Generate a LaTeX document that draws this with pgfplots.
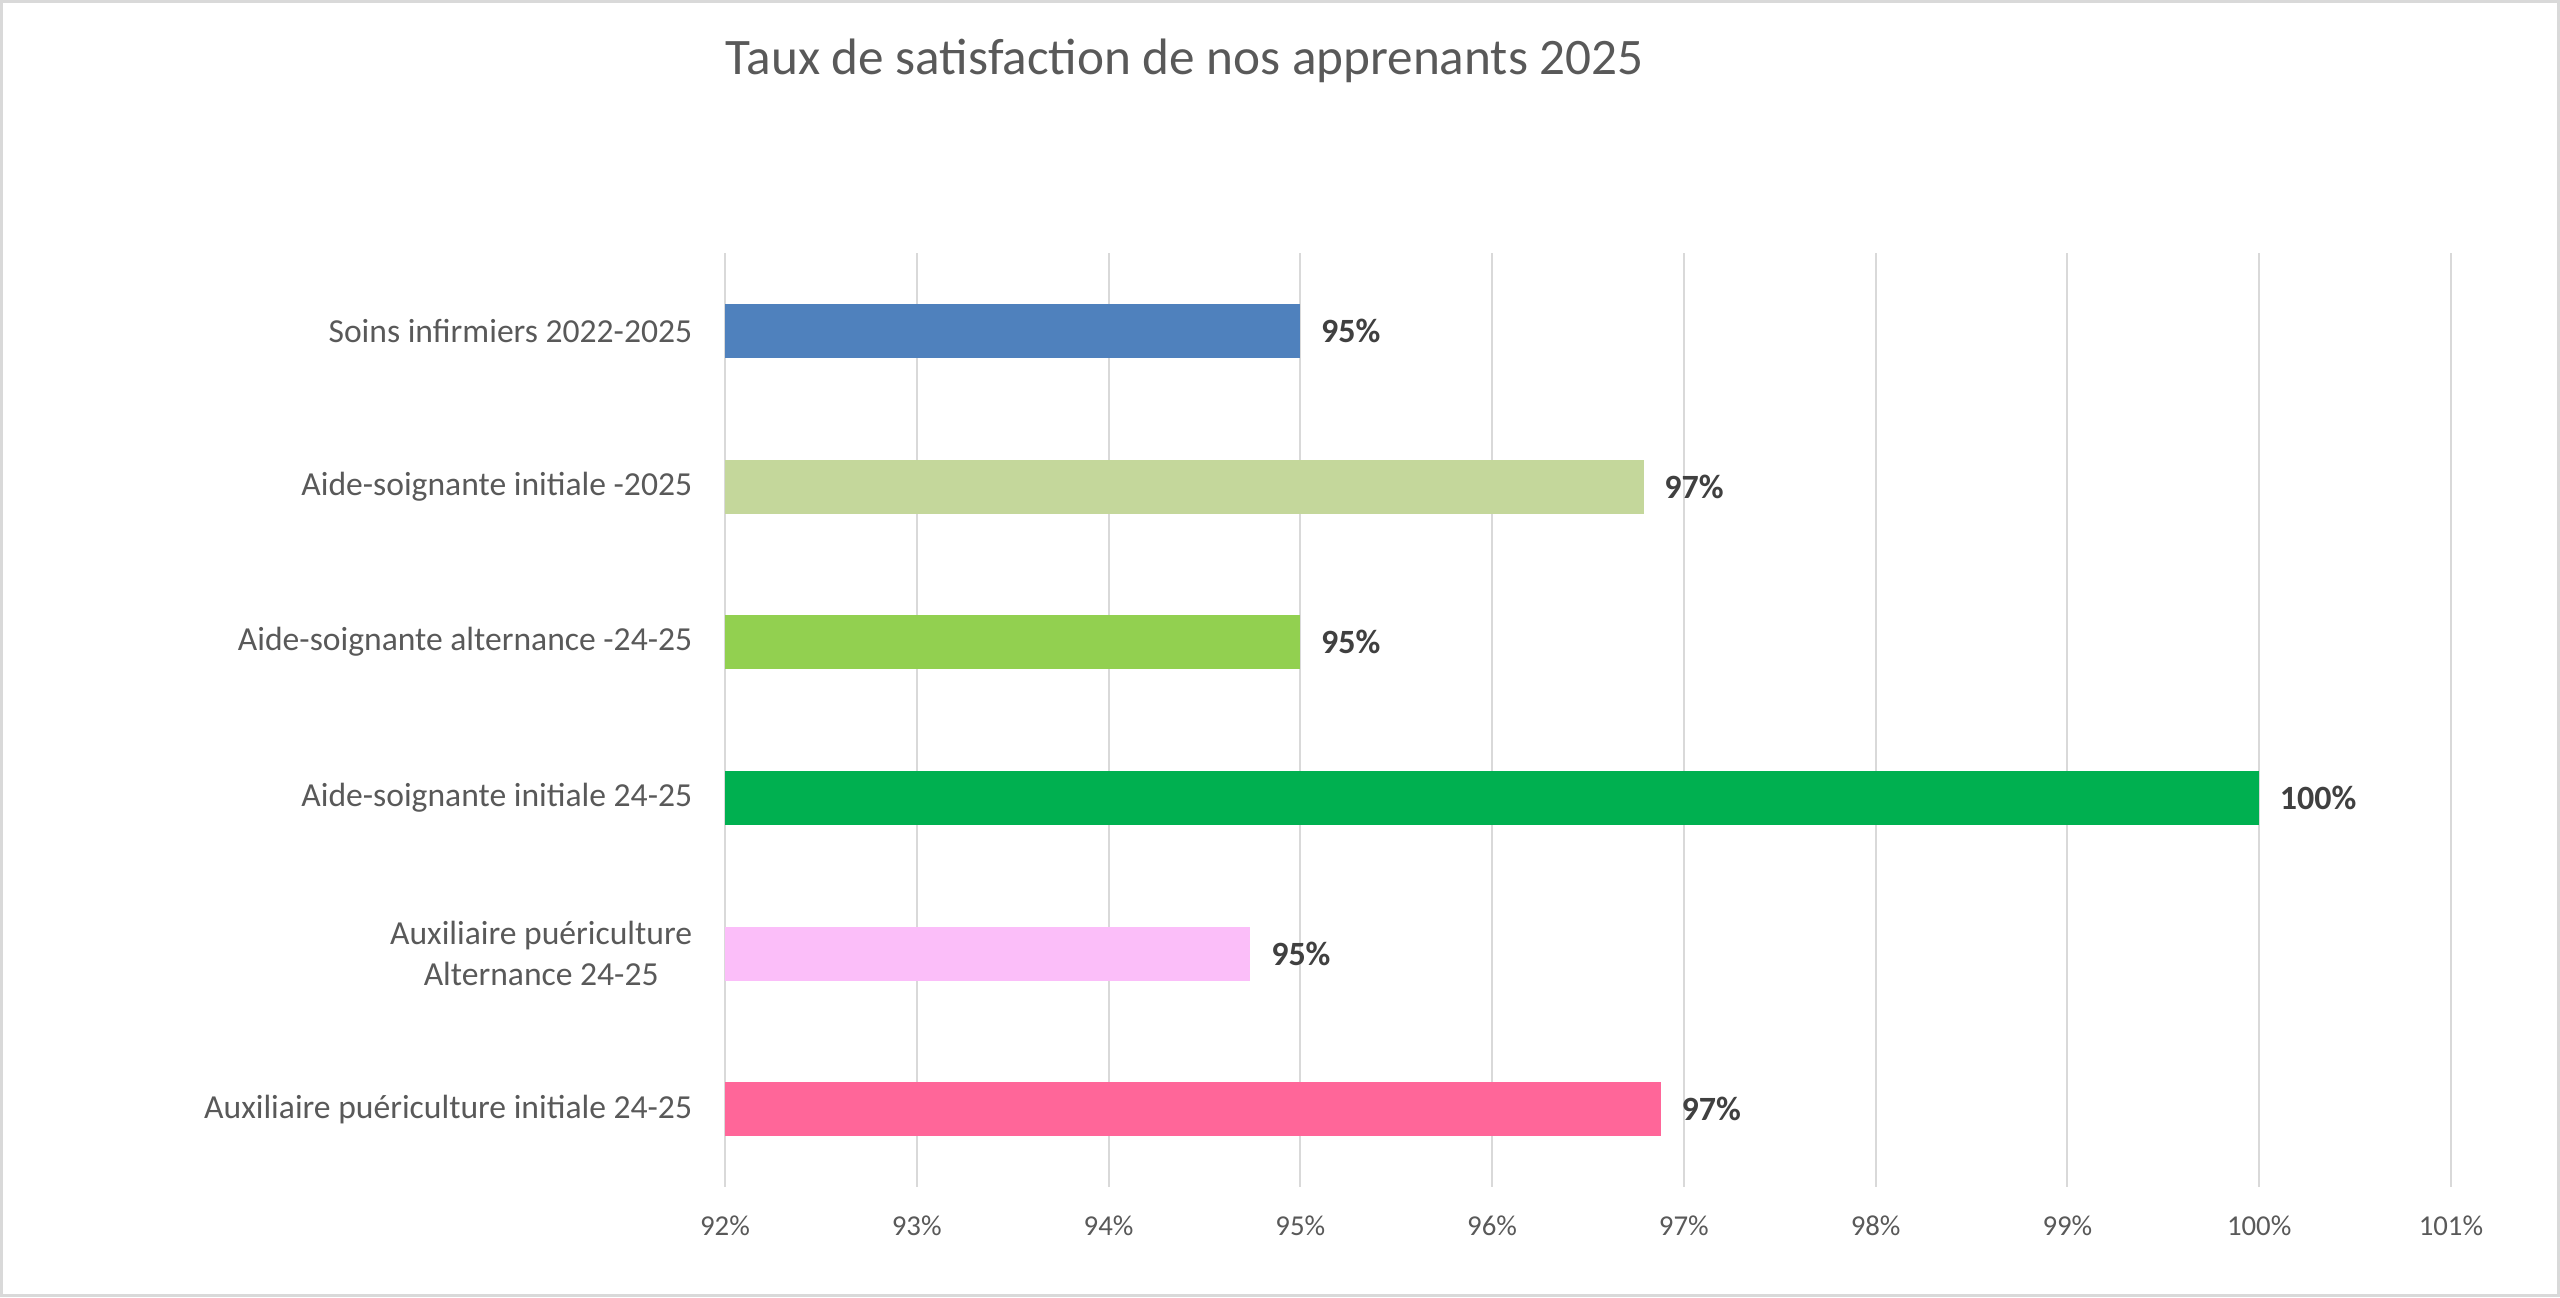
\documentclass[border=0pt]{standalone}
\usepackage{fontspec}
\setmainfont{Carlito}
\usepackage{pgfplots}
\pgfplotsset{compat=1.18}
\definecolor{txt}{HTML}{595959}
\definecolor{val}{HTML}{404040}
\definecolor{gridc}{HTML}{D9D9D9}
\definecolor{cA}{HTML}{4F81BD}
\definecolor{cB}{HTML}{C4D79B}
\definecolor{cC}{HTML}{92D050}
\definecolor{cD}{HTML}{00B050}
\definecolor{cE}{HTML}{FBBEF9}
\definecolor{cF}{HTML}{FF6699}
\begin{document}
\begin{tikzpicture}
\path[use as bounding box] (0,0) rectangle (640pt,324.25pt);
\draw[draw=gridc, line width=0.8pt] (0.4pt,0.4pt) rectangle (639.6pt,323.85pt);
\node[anchor=base west, inner sep=0pt, text=txt, font=\fontsize{12.8}{15}\selectfont]
  at (181.25pt,305.7pt) {Taux de satisfaction de nos apprenants 2025};
\begin{axis}[
  at={(181.25pt,27.5pt)}, anchor=south west,
  scale only axis, width=431.5pt, height=233.5pt,
  xbar, bar shift=0pt, bar width=13.5pt,
  xmin=92, xmax=101, ymin=-0.5, ymax=5.5, y dir=reverse,
  xtick={92,...,101}, ytick={0,...,5},
  xticklabel={\pgfmathprintnumber{\tick}\%},
  yticklabels={Soins infirmiers 2022-2025, Aide-soignante initiale -2025,
    Aide-soignante alternance -24-25, Aide-soignante initiale 24-25,
    {Auxiliaire puériculture\\Alternance 24-25}, Auxiliaire puériculture initiale 24-25},
  /pgf/number format/assume math mode=true,
  axis line style={draw=none}, major tick length=0pt,
  xmajorgrids, grid style={gridc, line width=0.5pt},
  xticklabel style={inner sep=0pt, yshift=-7pt, text=txt, font=\fontsize{7.2}{8.5}\selectfont},
  yticklabel style={inner sep=0pt, xshift=-8pt, text=txt, align=center, font=\fontsize{8.4}{10.2}\selectfont},
  point meta=x,
  nodes near coords={\pgfmathprintnumber[fixed,precision=0]{\pgfplotspointmeta}\%},
  nodes near coords style={anchor=west, inner sep=0pt, xshift=5pt, text=val, font=\fontsize{8.5}{10}\selectfont\bfseries},
]
\addplot[fill=cA, draw=none] coordinates {(95.0,0)};
\addplot[fill=cB, draw=none] coordinates {(96.79,1)};
\addplot[fill=cC, draw=none] coordinates {(95.0,2)};
\addplot[fill=cD, draw=none] coordinates {(100.0,3)};
\addplot[fill=cE, draw=none] coordinates {(94.74,4)};
\addplot[fill=cF, draw=none] coordinates {(96.88,5)};
\end{axis}
\end{tikzpicture}
\end{document}
